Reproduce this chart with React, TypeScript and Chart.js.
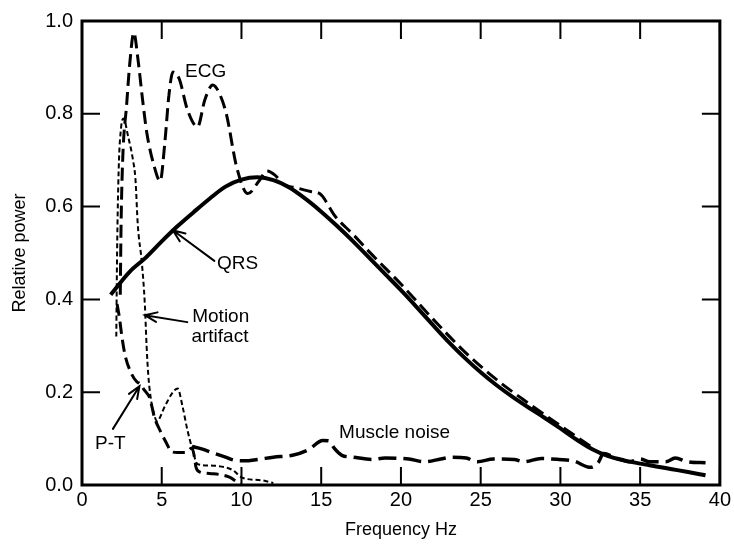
import React, { useEffect, useRef } from "react";
import { Chart, registerables } from "chart.js";

Chart.register(...registerables);

// ---- axis ranges ----
const X_MIN = 0;
const X_MAX = 40;
const X_STEP = 5;
const Y_MIN = 0;
const Y_MAX = 1;
const Y_STEP = 0.2;

// ---- QRS (solid) ----
const qrsX = [1.8, 3, 4, 5, 6, 7, 8, 9, 10, 11, 12, 13, 14, 15, 16, 17, 18, 19, 20, 21, 22, 23, 24, 25, 26, 27, 28, 29, 30, 31, 32, 33, 34, 35, 36, 37, 38, 39.1];
const qrsY = [0.41, 0.46, 0.49, 0.525, 0.558, 0.588, 0.617, 0.643, 0.658, 0.663, 0.657, 0.641, 0.617, 0.589, 0.558, 0.525, 0.49, 0.455, 0.42, 0.383, 0.345, 0.308, 0.274, 0.243, 0.215, 0.19, 0.167, 0.145, 0.122, 0.098, 0.077, 0.062, 0.053, 0.046, 0.04, 0.034, 0.028, 0.021];

// ---- ECG (long dash) ----
const ecgX = [2.4, 2.45, 2.55, 2.8, 3.0, 3.25, 3.5, 3.8, 4.06, 4.5, 4.9, 5.2, 5.45, 5.7, 6.1, 6.6, 7.25, 7.7, 8.2, 8.6, 9.05, 9.7, 10.4, 11.1, 11.6, 12.1, 12.6, 13.5, 14.4, 14.9, 15.9, 17, 18, 19, 20, 22, 24, 26, 28, 30, 32];
const ecgY = [0.41, 0.56, 0.7, 0.82, 0.91, 0.975, 0.92, 0.83, 0.76, 0.69, 0.655, 0.74, 0.84, 0.89, 0.875, 0.81, 0.772, 0.83, 0.862, 0.845, 0.8, 0.685, 0.628, 0.655, 0.677, 0.668, 0.649, 0.64, 0.632, 0.628, 0.578, 0.54, 0.503, 0.468, 0.433, 0.358, 0.287, 0.227, 0.176, 0.128, 0.081];

// ---- Motion artifact (short dash) ----
const motionX = [2.15, 2.2, 2.3, 2.45, 2.6, 2.9, 3.2, 3.35, 3.5, 3.75, 3.94, 4.05, 4.15, 4.3, 4.5, 4.7, 5.2, 5.7, 6.0, 6.3, 6.6, 6.9, 7.25, 8.0, 9.4, 10.1, 11.3, 12];
const motionY = [0.32, 0.5, 0.68, 0.77, 0.79, 0.75, 0.7, 0.66, 0.56, 0.48, 0.39, 0.3, 0.24, 0.19, 0.155, 0.138, 0.17, 0.2, 0.208, 0.17, 0.12, 0.08, 0.045, 0.042, 0.033, 0.015, 0.01, 0.004];

// ---- P-T (long dash) ----
const ptX = [2.2, 2.35, 2.5, 2.7, 3.1, 3.45, 3.6, 3.9, 4.25, 4.55, 4.9, 5.3, 5.6, 6.0, 6.45, 6.9, 7.05, 7.15, 7.4, 8.0, 9.25, 9.75, 10];
const ptY = [0.39, 0.36, 0.32, 0.28, 0.24, 0.222, 0.219, 0.205, 0.187, 0.145, 0.117, 0.09, 0.072, 0.07, 0.07, 0.08, 0.06, 0.038, 0.028, 0.025, 0.017, 0.006, 0.002];

// ---- Muscle noise (long dash) ----
const muscleX = [6.9, 7.5, 8.3, 9.0, 9.6, 10.2, 11, 12, 13.2, 14.2, 15.1, 15.5, 15.8, 16.3, 17, 18.2, 19, 20.5, 21.5, 22.5, 23.2, 24.1, 24.8, 25.8, 27.1, 27.7, 28.8, 29.9, 30.8, 31.9, 32.4, 32.7, 33.5, 34.3, 35, 35.6, 36.6, 37.2, 38, 39.1];
const muscleY = [0.083, 0.078, 0.068, 0.06, 0.053, 0.052, 0.055, 0.06, 0.064, 0.076, 0.096, 0.095, 0.08, 0.064, 0.06, 0.055, 0.058, 0.056, 0.05, 0.056, 0.06, 0.058, 0.05, 0.056, 0.055, 0.05, 0.057, 0.055, 0.052, 0.038, 0.05, 0.068, 0.058, 0.05, 0.056, 0.05, 0.05, 0.058, 0.05, 0.048];

// ---- annotations ----
const labelTexts = ["ECG", "QRS", "Motion", "artifact", "P-T", "Muscle noise"];
const labelX = [7.75, 9.75, 8.7, 8.65, 1.78, 19.6];
const labelY = [0.891, 0.477, 0.363, 0.32, 0.089, 0.112];

const arrowFromX = [8.3, 6.6, 1.94];
const arrowFromY = [0.483, 0.351, 0.121];
const arrowToX = [5.7, 3.94, 3.6];
const arrowToY = [0.549, 0.366, 0.213];

const FONT = '"Liberation Sans", Arial, Helvetica, sans-serif';

const pts = (xs: number[], ys: number[]) => xs.map((x, i) => ({ x, y: ys[i] }));

const framePlugin = {
  id: "frameTicks",
  afterDraw(chart: any) {
    const { ctx, chartArea, scales } = chart;
    const { left, right, top, bottom } = chartArea;
    const x = scales.x;
    const y = scales.y;
    ctx.save();
    ctx.strokeStyle = "#000";
    ctx.lineWidth = 3;
    ctx.strokeRect(left, top, right - left, bottom - top);
    ctx.lineWidth = 2;
    const L = 18;
    ctx.beginPath();
    x.ticks.forEach((t: any) => {
      const px = x.getPixelForValue(t.value);
      ctx.moveTo(px, bottom);
      ctx.lineTo(px, bottom - L);
      ctx.moveTo(px, top);
      ctx.lineTo(px, top + L);
    });
    y.ticks.forEach((t: any) => {
      const py = y.getPixelForValue(t.value);
      ctx.moveTo(left, py);
      ctx.lineTo(left + L, py);
      ctx.moveTo(right, py);
      ctx.lineTo(right - L, py);
    });
    ctx.stroke();
    ctx.restore();
  },
};

const annotationPlugin = {
  id: "annotations",
  afterDatasetsDraw(chart: any) {
    const { ctx, scales } = chart;
    const x = scales.x;
    const y = scales.y;
    ctx.save();
    ctx.fillStyle = "#000";
    ctx.strokeStyle = "#000";
    ctx.font = `19px ${FONT}`;
    ctx.textAlign = "center";
    ctx.textBaseline = "middle";
    labelTexts.forEach((t, i) => {
      ctx.fillText(t, x.getPixelForValue(labelX[i]), y.getPixelForValue(labelY[i]));
    });
    ctx.lineWidth = 2;
    ctx.lineCap = "round";
    arrowFromX.forEach((fx, i) => {
      const x0 = x.getPixelForValue(fx);
      const y0 = y.getPixelForValue(arrowFromY[i]);
      const x1 = x.getPixelForValue(arrowToX[i]);
      const y1 = y.getPixelForValue(arrowToY[i]);
      const ang = Math.atan2(y1 - y0, x1 - x0);
      const h = 13;
      const spread = 0.38;
      ctx.beginPath();
      ctx.moveTo(x0, y0);
      ctx.lineTo(x1, y1);
      ctx.moveTo(x1 - h * Math.cos(ang - spread), y1 - h * Math.sin(ang - spread));
      ctx.lineTo(x1, y1);
      ctx.lineTo(x1 - h * Math.cos(ang + spread), y1 - h * Math.sin(ang + spread));
      ctx.stroke();
    });
    ctx.restore();
  },
};

export default function App() {
  const canvasRef = useRef<HTMLCanvasElement | null>(null);

  useEffect(() => {
    const canvas = canvasRef.current;
    if (!canvas) return;
    const common = {
      pointRadius: 0,
      fill: false,
      borderColor: "#000",
      cubicInterpolationMode: "monotone" as const,
      borderCapStyle: "butt" as const,
    };
    const chart = new Chart(canvas, {
      type: "line",
      data: {
        datasets: [
          { ...common, label: "QRS", data: pts(qrsX, qrsY), borderWidth: 4 },
          { ...common, label: "ECG", data: pts(ecgX, ecgY), borderWidth: 3, borderDash: [13, 6] },
          { ...common, label: "Motion artifact", data: pts(motionX, motionY), borderWidth: 2, borderDash: [5, 3] },
          { ...common, label: "P-T", data: pts(ptX, ptY), borderWidth: 3, borderDash: [12, 6] },
          { ...common, label: "Muscle noise", data: pts(muscleX, muscleY), borderWidth: 3.5, borderDash: [18, 7] },
        ],
      },
      options: {
        responsive: false,
        maintainAspectRatio: false,
        animation: false,
        devicePixelRatio: 1,
        layout: { padding: { left: 0, right: 12, top: 15, bottom: 0 } },
        plugins: { legend: { display: false }, tooltip: { enabled: false } },
        scales: {
          x: {
            type: "linear",
            min: X_MIN,
            max: X_MAX,
            grid: { display: false, drawTicks: false },
            border: { display: false },
            ticks: {
              stepSize: X_STEP,
              color: "#000",
              font: { family: FONT, size: 20 },
              padding: 3,
              maxRotation: 0,
              autoSkip: false,
            },
            title: {
              display: true,
              text: "Frequency Hz",
              color: "#000",
              font: { family: FONT, size: 18 },
              padding: { top: 0, bottom: 3 },
            },
            afterFit: (s: any) => {
              s.height = 59;
            },
          },
          y: {
            type: "linear",
            min: Y_MIN,
            max: Y_MAX,
            grid: { display: false, drawTicks: false },
            border: { display: false },
            ticks: {
              stepSize: Y_STEP,
              color: "#000",
              font: { family: FONT, size: 20 },
              padding: 9,
              callback: (v: any) => Number(v).toFixed(1),
            },
            title: {
              display: true,
              text: "Relative power",
              color: "#000",
              font: { family: FONT, size: 18 },
              padding: { top: 9, bottom: 0 },
            },
            afterFit: (s: any) => {
              s.width = 82;
            },
          },
        },
      },
      plugins: [framePlugin, annotationPlugin],
    });
    return () => chart.destroy();
  }, []);

  return (
    <div style={{ position: "fixed", left: 0, top: 0, width: 734, height: 544, background: "#fff" }}>
      <canvas ref={canvasRef} width={734} height={544} style={{ display: "block" }} />
    </div>
  );
}
